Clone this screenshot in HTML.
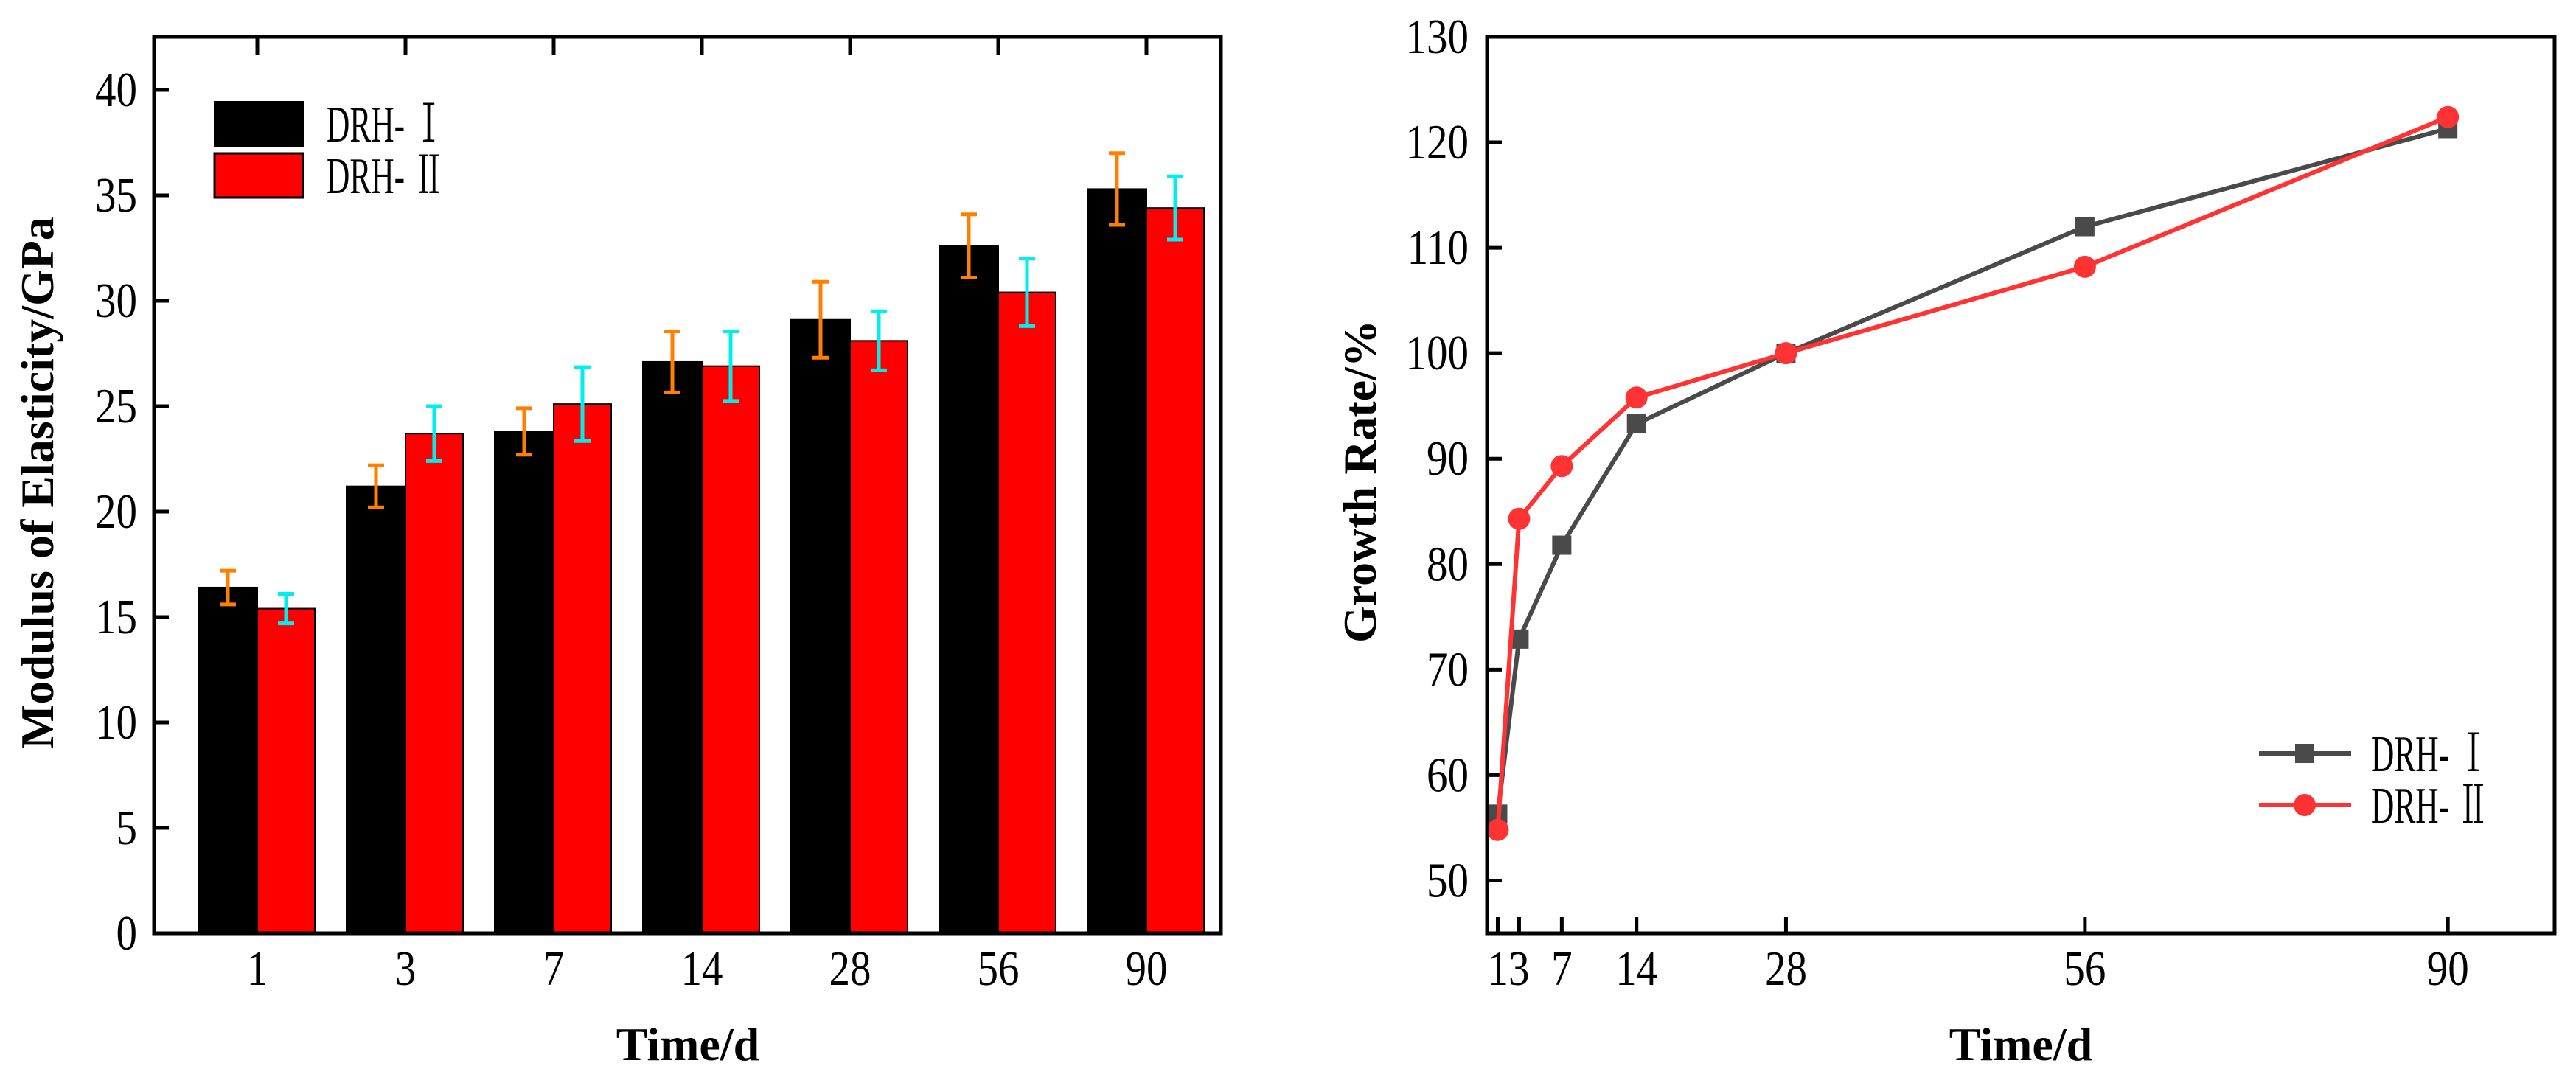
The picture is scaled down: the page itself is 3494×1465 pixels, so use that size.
<!DOCTYPE html>
<html><head><meta charset="utf-8"><style>
html,body{margin:0;padding:0;background:#fff;}
svg{display:block;}
text{font-family:"Liberation Serif","Noto Serif CJK SC",serif;}
</style></head><body>
<svg id="fig" width="3494" height="1465" viewBox="0 0 3494 1465" xmlns="http://www.w3.org/2000/svg">
<g id="left"></g>
<g id="right"></g>
</svg>
<script>
const categories = ["1","3","7","14","28","56","90"];
const modulusDRH1 = [16.4,21.2,23.8,27.1,29.1,32.6,35.3];
const modulusDRH2 = [15.4,23.7,25.1,26.9,28.1,30.4,34.4];
const errDRH1 = [0.8,1.0,1.1,1.45,1.8,1.5,1.7];
const errDRH2 = [0.7,1.3,1.75,1.65,1.4,1.6,1.5];
const leftYTicks = [0,5,10,15,20,25,30,35,40];

const days = [1,3,7,14,28,56,90];
const growthDRH1 = [56.3,72.9,81.8,93.3,100,112,121.3];
const growthDRH2 = [54.8,84.3,89.3,95.8,100,108.2,122.4];
const rightYTicks = [50,60,70,80,90,100,110,120,130];
const rightXTicks = [1,3,7,14,28,56,90];

const NS="http://www.w3.org/2000/svg";
function mk(parent,tag,attrs,txt){const e=document.createElementNS(NS,tag);for(const k in attrs)e.setAttribute(k,attrs[k]);if(txt!==undefined)e.textContent=txt;parent.appendChild(e);return e;}
function lbl(parent,x,y,anchor,s){return mk(parent,'text',{x:0,y:0,'font-size':60,'text-anchor':anchor,transform:'translate('+x+','+y+') scale(0.95,1.12)'},s);}

// ---- Left chart ----
const L=document.getElementById('left');
const lx0=209,lx1=1656,ly0=50,ly1=1266;
const ly=v=>ly1-v*(ly1-122)/40;
const lcx=i=>349+201*i;
const bw=80;
for(let i=0;i<categories.length;i++){
  const c=lcx(i);
  let b=mk(L,'rect',{x:c-bw,y:ly(modulusDRH1[i]),width:bw,height:ly1-ly(modulusDRH1[i]),fill:'#000',stroke:'#000','stroke-width':2});
  
  
  let r=mk(L,'rect',{x:c,y:ly(modulusDRH2[i]),width:bw-2,height:ly1-ly(modulusDRH2[i]),fill:'#ff0000',stroke:'#000','stroke-width':2});
  
  
  const eb=[[c-bw/2,modulusDRH1[i],errDRH1[i],'#ff8000'],[c+bw/2-1,modulusDRH2[i],errDRH2[i],'#00eeee']];
  eb.forEach((d,j)=>{
    const g=mk(L,'g',{stroke:d[3],'stroke-width':5,fill:'none'});
    
    
    const t=ly(d[1]+d[2]),bt=ly(d[1]-d[2]);
    mk(g,'line',{x1:d[0],x2:d[0],y1:t,y2:bt});
    mk(g,'line',{x1:d[0]-11,x2:d[0]+11,y1:t,y2:t});
    mk(g,'line',{x1:d[0]-11,x2:d[0]+11,y1:bt,y2:bt});
  });
  let tk=mk(L,'line',{x1:c,x2:c,y1:ly0,y2:ly0+25,stroke:'#000','stroke-width':5});
  
  
  let tl=lbl(L,c,1336,'middle',categories[i]);
  
  
}
leftYTicks.forEach(v=>{
  let t=mk(L,'line',{x1:lx0,x2:lx0+20,y1:ly(v),y2:ly(v),stroke:'#000','stroke-width':5});
  
  
  let tl=lbl(L,186,ly(v)+22,'end',String(v));
  
  
});
let lf=mk(L,'rect',{x:lx0,y:ly0,width:lx1-lx0,height:ly1-ly0,fill:'none',stroke:'#000','stroke-width':5});


let lyt=mk(L,'text',{x:0,y:0,'font-size':64,'font-weight':'bold','text-anchor':'middle',transform:'translate(72,655) rotate(-90)'},'Modulus of Elasticity/GPa');


let lxt=mk(L,'text',{x:933,y:1438,'font-size':64,'font-weight':'bold','text-anchor':'middle'},'Time/d');


// legend
const lg=mk(L,'g',{});


let lb1=mk(lg,'rect',{x:291,y:138,width:120,height:61,fill:'#000',stroke:'#000','stroke-width':2});


let lb2=mk(lg,'rect',{x:291,y:208,width:120,height:60,fill:'#ff0000',stroke:'#000','stroke-width':3});


let lt1=mk(lg,'text',{x:0,y:0,'font-size':70,transform:'translate(443,192) scale(0.62,1)'},'DRH- Ⅰ');


let lt2=mk(lg,'text',{x:0,y:0,'font-size':70,transform:'translate(443,262) scale(0.62,1)'},'DRH- Ⅱ');



// ---- Right chart ----
const R=document.getElementById('right');
const rx0=2017,rx1=3465,ry0=50,ry1=1266;
const rx=d=>rx0+d*(rx1-rx0)/100;
const ry=v=>ry1-(v-45)*(ry1-ry0)/85;
rightYTicks.forEach(v=>{
  let t=mk(R,'line',{x1:rx0,x2:rx0+20,y1:ry(v),y2:ry(v),stroke:'#000','stroke-width':5});
  
  
  let tl=lbl(R,1992,ry(v)+22,'end',String(v));
  
  
});
rightXTicks.forEach(d=>{
  let t=mk(R,'line',{x1:rx(d),x2:rx(d),y1:ry1,y2:ry1-22,stroke:'#000','stroke-width':5});
  
  
});
let xl13=lbl(R,rx(2),1336,'middle','13');


rightXTicks.slice(2).forEach(d=>{
  let tl=lbl(R,rx(d),1336,'middle',String(d));
  
  
});
function series(vals,color,shape,name){
  const g=mk(R,'g',{});
  
  
  let p=mk(g,'polyline',{points:days.map((d,i)=>rx(d)+','+ry(vals[i])).join(' '),fill:'none',stroke:color,'stroke-width':6});
  
  
  days.forEach((d,i)=>{
    let m=shape==='sq'?mk(g,'rect',{x:rx(d)-13,y:ry(vals[i])-13,width:26,height:26,fill:color})
                      :mk(g,'circle',{cx:rx(d),cy:ry(vals[i]),r:15,fill:color});
    
    
  });
}
series(growthDRH1,'#4a4a4a','sq','series-drh1');
series(growthDRH2,'#ff3333','ci','series-drh2');
let rf=mk(R,'rect',{x:rx0,y:ry0,width:rx1-rx0,height:ry1-ry0,fill:'none',stroke:'#000','stroke-width':5});


let ryt=mk(R,'text',{x:0,y:0,'font-size':64,'font-weight':'bold','text-anchor':'middle',transform:'translate(1866,653) rotate(-90)'},'Growth Rate/%');


let rxt=mk(R,'text',{x:2741,y:1438,'font-size':64,'font-weight':'bold','text-anchor':'middle'},'Time/d');


const rl=mk(R,'g',{});


mk(rl,'line',{x1:3064,x2:3189,y1:1022,y2:1022,stroke:'#4a4a4a','stroke-width':6});
let rs=mk(rl,'rect',{x:3113,y:1009,width:26,height:26,fill:'#4a4a4a'});


mk(rl,'line',{x1:3064,x2:3189,y1:1092,y2:1092,stroke:'#ff3333','stroke-width':6});
let rc=mk(rl,'circle',{cx:3126,cy:1092,r:15,fill:'#ff3333'});


let rt1=mk(rl,'text',{x:0,y:0,'font-size':70,transform:'translate(3216,1046) scale(0.62,1)'},'DRH- Ⅰ');


let rt2=mk(rl,'text',{x:0,y:0,'font-size':70,transform:'translate(3216,1116) scale(0.62,1)'},'DRH- Ⅱ');


</script>
</body></html>
